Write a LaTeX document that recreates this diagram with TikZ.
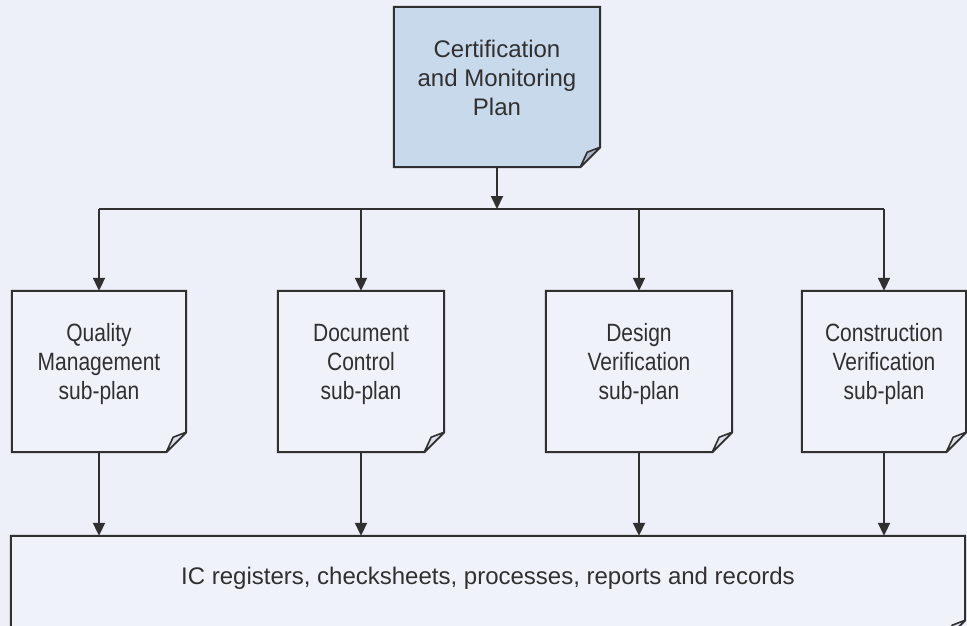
\documentclass[tikz,border=0pt]{standalone}
\usepackage{fontspec}
\setmainfont{Liberation Sans}
\newfontfamily\narrowsans[FakeStretch=0.84]{Liberation Sans}
\usetikzlibrary{arrows.meta}
\definecolor{bg}{HTML}{EDF0F8}
\definecolor{ink}{HTML}{303030}
\definecolor{topfill}{HTML}{C9D9EC}
\definecolor{topflap}{HTML}{A9B5C6}
\definecolor{boxfill}{HTML}{EFF2F9}
\definecolor{boxflap}{HTML}{DDE1E9}
\pgfdeclarelayer{background}
\pgfsetlayers{background,main}
\tikzset{
  box/.style={draw=none, inner sep=0pt},
  txt/.style={align=center, text=ink, font=\fontsize{24}{29}\selectfont},
  subtxt/.style={align=center, text=ink, font=\narrowsans\fontsize{25}{29}\selectfont},
  conn/.style={draw=ink, line width=2pt},
  arr/.style={conn, -{Triangle[width=12pt,length=13pt]}},
  outline/.style={draw=ink, line width=2pt, line join=miter},
  flapline/.style={draw=ink, line width=1.6pt, line join=round}
}
\newcommand\docoutline[3]{%
  \filldraw[outline, fill=#2] (#1.north west) -- (#1.north east) -- ([yshift=20pt]#1.south east) -- ([xshift=-20pt]#1.south east) -- (#1.south west) -- cycle;
  \filldraw[flapline, fill=#3] ([yshift=20pt]#1.south east) -- ([xshift=-13pt,yshift=15pt]#1.south east) -- ([xshift=-20pt]#1.south east) -- cycle;
}
\begin{document}
\begin{tikzpicture}[x=1pt,y=-1pt]
\useasboundingbox (0,0) rectangle (967,626);
\clip (0,0) rectangle (967,626);

\node[box, minimum width=206pt, minimum height=160pt,
  label={[txt, yshift=9pt]center:{Certification\\and Monitoring\\Plan}}] (top) at (497,87) {};

\node[box, minimum width=174pt, minimum height=161pt,
  label={[subtxt, yshift=7pt]center:{Quality\\Management\\sub-plan}}] (qm) at (99,371.5) {};
\node[box, minimum width=166pt, minimum height=161pt,
  label={[subtxt, yshift=7pt]center:{Document\\Control\\sub-plan}}] (dc) at (361,371.5) {};
\node[box, minimum width=186pt, minimum height=161pt,
  label={[subtxt, yshift=7pt]center:{Design\\Verification\\sub-plan}}] (dv) at (639,371.5) {};
\node[box, minimum width=164pt, minimum height=161pt,
  label={[subtxt, yshift=7pt]center:{Construction\\Verification\\sub-plan}}] (cv) at (884,371.5) {};

\node[box, minimum width=954pt, minimum height=104pt,
  label={[txt, yshift=10pt]center:{IC registers, checksheets, processes, reports and records}}] (ic) at (488,588) {};

\coordinate (bus) at (497,209);

\begin{pgfonlayer}{background}
  \fill[bg] (0,0) rectangle (967,626);
  \docoutline{top}{topfill}{topflap}
  \docoutline{qm}{boxfill}{boxflap}
  \docoutline{dc}{boxfill}{boxflap}
  \docoutline{dv}{boxfill}{boxflap}
  \docoutline{cv}{boxfill}{boxflap}
  \docoutline{ic}{boxfill}{boxflap}
\end{pgfonlayer}

\draw[arr] (top.south) -- (top.south |- bus);
\draw[conn] (qm.north |- bus) -- (cv.north |- bus);
\foreach \n in {qm,dc,dv,cv} {
  \draw[arr] (\n.north |- bus) -- (\n.north);
  \draw[arr] (\n.south) -- (\n.south |- ic.north);
}
\end{tikzpicture}
\end{document}
